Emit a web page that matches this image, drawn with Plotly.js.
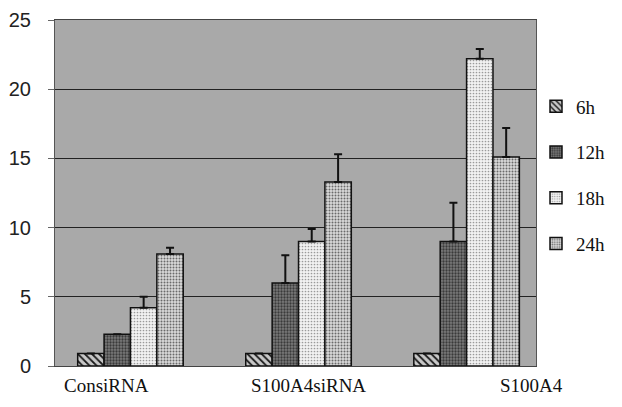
<!DOCTYPE html>
<html>
<head>
<meta charset="utf-8">
<script src="https://cdn.plot.ly/plotly-3.0.1.min.js"></script>
<style>
  html, body { margin: 0; padding: 0; background: #fff; }
  #chart { width: 622px; height: 407px; }
</style>
</head>
<body>
<div id="chart"></div>
<script>
// Groups along the x axis
const groups = ["ConsiRNA", "S100A4siRNA", "S100A4"];

// Time points (one bar series each)
const timeLabels = ["6h", "12h", "18h", "24h"];

// Mean values per time point, in group order
const values6h  = [0.9, 0.9, 0.9];
const values12h = [2.3, 6.0, 9.0];
const values18h = [4.2, 9.0, 22.2];
const values24h = [8.1, 13.3, 15.1];

// Upper error bar lengths
const err6h  = [0, 0, 0];
const err12h = [0, 2.0, 2.8];
const err18h = [0.8, 0.9, 0.7];
const err24h = [0.45, 2.0, 2.1];

const seriesValues = [values6h, values12h, values18h, values24h];
const seriesErrors = [err6h, err12h, err18h, err24h];

// Fill textures for each time point
const fills = [
  { shape: "\\", fgcolor: "#1a1a1a", bgcolor: "#c8c8c8", size: 5, solidity: 0.35 },
  { shape: ".",  fgcolor: "#3a3a3a", bgcolor: "#7a7a7a", size: 3, solidity: 0.45 },
  { shape: ".",  fgcolor: "#9a9a9a", bgcolor: "#f2f2f2", size: 3, solidity: 0.25 },
  { shape: ".",  fgcolor: "#6a6a6a", bgcolor: "#dadada", size: 3, solidity: 0.35 }
];

const traces = timeLabels.map((name, i) => ({
  type: "bar",
  name: name,
  legendgroup: name,
  x: groups,
  y: seriesValues[i],
  marker: {
    color: fills[i].bgcolor,
    pattern: fills[i],
    line: { color: "#111", width: 1.5 }
  },
  error_y: {
    type: "data",
    symmetric: false,
    array: seriesErrors[i],
    arrayminus: groups.map(() => 0),
    color: "#111",
    thickness: 2,
    width: 4
  },
  hoverinfo: "none"
}));

const serif = "Liberation Serif";

const layout = {
  width: 622,
  height: 407,
  margin: { l: 55, r: 79, t: 20, b: 41 },
  font: { family: serif, size: 18, color: "#111" },
  paper_bgcolor: "#ffffff",
  plot_bgcolor: "#a9a9a9",
  barmode: "group",
  bargap: 0.372,
  bargroupgap: 0,
  showlegend: true,
  legend: {
    x: 1.0, xanchor: "left",
    y: 0.805, yanchor: "top",
    font: { family: serif, size: 19, color: "#111" },
    traceorder: "grouped",
    tracegroupgap: 18,
    itemwidth: 30,
    bgcolor: "rgba(0,0,0,0)"
  },
  xaxis: {
    type: "category",
    range: [-0.449, 2.413],
    showticklabels: false,
    ticks: "",
    showgrid: false,
    showline: true,
    linecolor: "#444",
    linewidth: 1,
    mirror: true,
    zeroline: false
  },
  yaxis: {
    range: [0, 25],
    dtick: 5,
    tick0: 0,
    ticks: "outside",
    ticklen: 6,
    tickcolor: "#666",
    ticklabelstandoff: 13,
    tickfont: { family: "Liberation Sans", size: 20, color: "#222" },
    showgrid: true,
    gridcolor: "#222",
    gridwidth: 1,
    showline: true,
    linecolor: "#555",
    linewidth: 1,
    mirror: true,
    zeroline: false
  },
  annotations: groups.map((g, i) => ({
    text: g,
    xref: "paper",
    yref: "paper",
    x: [0.1066, 0.5266, 0.9898][i],
    y: -0.055,
    xanchor: "center",
    yanchor: "middle",
    showarrow: false,
    font: { family: serif, size: 19, color: "#111" }
  }))
};

Plotly.newPlot("chart", traces, layout, { staticPlot: true, displayModeBar: false });
</script>
</body>
</html>
